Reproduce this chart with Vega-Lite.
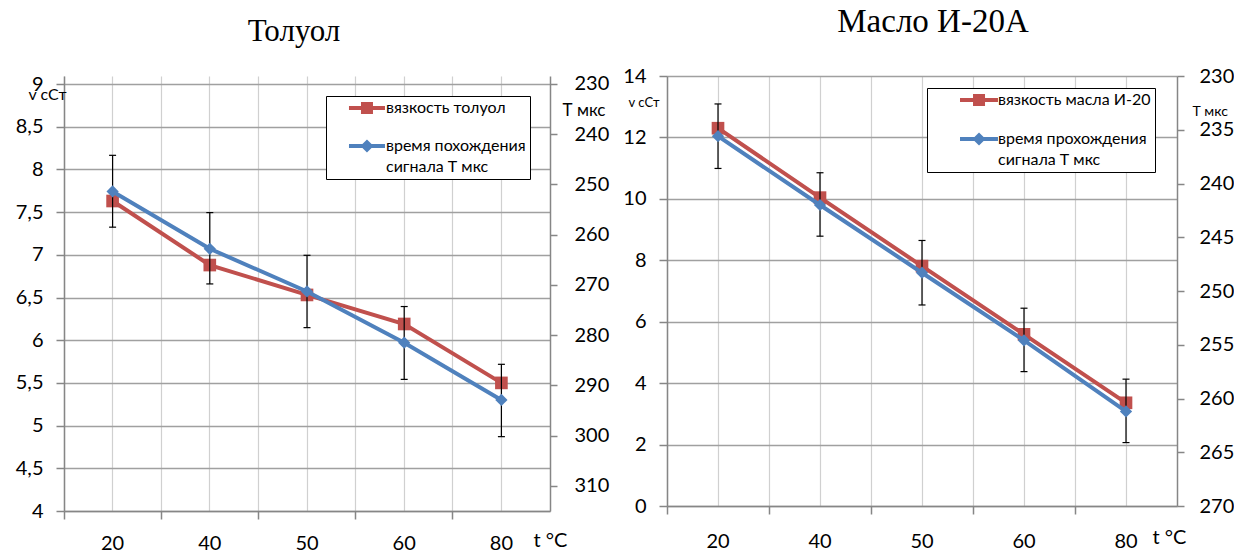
{
  "$schema": "https://vega.github.io/schema/vega-lite/v6.json",
  "padding": {"left": 15, "top": 6, "right": 0, "bottom": 0},
  "background": "white",
  "config": {
    "view": {"stroke": null},
    "font": "Lato",
    "axis": {"labelFont": "Lato", "titleFont": "Lato", "labelColor": "black", "titleColor": "black", "domainColor": "#868686", "tickColor": "#868686", "domainWidth": 1.5, "tickWidth": 1.5, "labelFontSize": 20, "titleFontWeight": "normal"},
    "title": {"font": "Liberation Serif", "fontSize": 31, "fontWeight": "normal", "color": "black", "baseline": "alphabetic", "frame": "group", "anchor": "middle"},
    "legend": {"title": null, "orient": "none", "strokeColor": "black", "fillColor": "white", "padding": 4, "labelFont": "Lato", "labelFontSize": 16, "labelColor": "black", "labelLimit": 300, "symbolSize": 144, "symbolStrokeWidth": 0, "symbolOpacity": 1}
  },
  "datasets": {
    "toluene": [
      {"t": "20", "visc": 7.63, "time": 251.4, "lo": 244.2, "hi": 258.5},
      {"t": "40", "visc": 6.88, "time": 262.8, "lo": 255.6, "hi": 269.8},
      {"t": "50", "visc": 6.53, "time": 271.3, "lo": 264.1, "hi": 278.5},
      {"t": "60", "visc": 6.19, "time": 281.5, "lo": 274.3, "hi": 288.8},
      {"t": "80", "visc": 5.5, "time": 292.9, "lo": 285.8, "hi": 300.2}
    ],
    "oil": [
      {"t": "20", "visc": 12.3, "time": 235.6, "lo": 232.6, "hi": 238.6},
      {"t": "40", "visc": 10.04, "time": 242.0, "lo": 239.0, "hi": 244.9},
      {"t": "50", "visc": 7.81, "time": 248.3, "lo": 245.3, "hi": 251.3},
      {"t": "60", "visc": 5.59, "time": 254.6, "lo": 251.6, "hi": 257.5},
      {"t": "80", "visc": 3.36, "time": 261.2, "lo": 258.2, "hi": 264.1}
    ]
  },
  "spacing": 13,
  "resolve": {"scale": {"color": "independent"}, "legend": {"color": "independent"}},
  "hconcat": [
    {
      "width": 486,
      "height": 435,
      "title": {"text": "Толуол", "offset": 26, "dx": -13},
      "data": {"name": "toluene"},
      "resolve": {"scale": {"y": "independent"}, "axis": {"x": "independent", "y": "independent"}},
      "layer": [
        {
          "layer": [
            {
              "mark": {"type": "line", "color": "#C0504D", "strokeWidth": 4},
              "encoding": {
                "x": {"field": "t", "type": "ordinal", "bandPosition": 0.5,
                  "scale": {"type": "band", "paddingInner": 0, "paddingOuter": 0, "domain": ["20", "40", "50", "60", "80"]},
                  "axis": {"orient": "bottom", "bandPosition": 0.5, "title": null, "ticks": false, "tickSize": 0, "domain": false, "grid": true, "gridColor": "#d0d0d0", "gridWidth": 1.2, "labelPadding": 22, "labelAngle": 0, "labelBaseline": "top"}},
                "y": {"field": "visc", "type": "quantitative",
                  "scale": {"domain": [4, 9.0937], "nice": false, "zero": false},
                  "axis": {"orient": "left", "values": [4, 4.5, 5, 5.5, 6, 6.5, 7, 7.5, 8, 8.5, 9], "grid": true, "gridColor": "#a0a0a0", "gridWidth": 1.5, "tickSize": 8, "labelPadding": 13, "labelExpr": "replace(format(datum.value, '~g'), '.', ',')", "title": "v сСт", "titleAngle": 0, "titleX": 2, "titleY": 23, "titleAlign": "right", "titleBaseline": "alphabetic", "titleFontSize": 16}}
              }
            },
            {
              "mark": {"type": "point", "shape": "square", "filled": true, "size": 160, "opacity": 1},
              "encoding": {
                "x": {"field": "t", "type": "ordinal", "bandPosition": 0.5},
                "y": {"field": "visc", "type": "quantitative"},
                "color": {"datum": "вязкость толуол", "type": "nominal",
                  "scale": {"domain": ["вязкость толуол", "время похождения сигнала Т мкс"], "range": ["#C0504D", "#4F81BD"]},
                  "legend": {"legendX": 262, "legendY": 20, "labelOffset": 40, "rowPadding": 22,
                    "symbolType": {"expr": "datum.value === 'вязкость толуол' ? 'M1.83,-0.33H7.83V0.33H1.83Z M3.83,-1H5.83V1H3.83Z' : 'M1.83,-0.33H7.83V0.33H1.83Z M4.83,-1.1L5.93,0L4.83,1.1L3.73,0Z'"},
                    "labelExpr": "datum.value === 'время похождения сигнала Т мкс' ? ['время похождения', 'сигнала Т мкс'] : datum.label",
                    "encode": {"labels": {"update": {"lineHeight": {"value": 21}}}}}}
              }
            }
          ]
        },
        {
          "layer": [
            {
              "mark": {"type": "rule", "color": "black", "strokeWidth": 1.2},
              "encoding": {
                "x": {"field": "t", "type": "ordinal", "bandPosition": 0.5,
                  "axis": {"orient": "bottom", "bandPosition": 0, "labels": false, "ticks": true, "tickSize": 8, "domain": true, "grid": true, "gridColor": "#d0d0d0", "gridWidth": 1.2, "title": "t °C", "titleX": 469, "titleY": 35, "titleAlign": "left", "titleBaseline": "alphabetic", "titleFontSize": 20}},
                "y": {"field": "lo", "type": "quantitative",
                  "scale": {"domain": [228.41, 315], "nice": false, "zero": false, "reverse": true},
                  "axis": {"orient": "right", "values": [230, 240, 250, 260, 270, 280, 290, 300, 310], "grid": false, "tickSize": 7, "labelPadding": 17, "title": "Т мкс", "titleAngle": 0, "titleX": 12, "titleY": 39, "titleAlign": "left", "titleBaseline": "alphabetic", "titleFontSize": 17}},
                "y2": {"field": "hi"}
              }
            },
            {
              "mark": {"type": "tick", "color": "black", "thickness": 1.2, "size": 7, "opacity": 1},
              "encoding": {
                "x": {"field": "t", "type": "ordinal", "bandPosition": 0.5},
                "y": {"field": "lo", "type": "quantitative"}
              }
            },
            {
              "mark": {"type": "tick", "color": "black", "thickness": 1.2, "size": 7, "opacity": 1},
              "encoding": {
                "x": {"field": "t", "type": "ordinal", "bandPosition": 0.5},
                "y": {"field": "hi", "type": "quantitative"}
              }
            },
            {
              "mark": {"type": "line", "color": "#4F81BD", "strokeWidth": 4},
              "encoding": {
                "x": {"field": "t", "type": "ordinal", "bandPosition": 0.5},
                "y": {"field": "time", "type": "quantitative"}
              }
            },
            {
              "mark": {"type": "point", "shape": "diamond", "filled": true, "size": 150, "opacity": 1},
              "encoding": {
                "x": {"field": "t", "type": "ordinal", "bandPosition": 0.5},
                "y": {"field": "time", "type": "quantitative"},
                "color": {"datum": "время похождения сигнала Т мкс", "type": "nominal"}
              }
            }
          ]
        }
      ]
    },
    {
      "width": 510,
      "height": 430,
      "title": {"text": "Масло И-20А", "offset": 27, "dx": 11, "fontSize": 33},
      "data": {"name": "oil"},
      "resolve": {"scale": {"y": "independent"}, "axis": {"x": "independent", "y": "independent"}},
      "layer": [
        {
          "layer": [
            {
              "mark": {"type": "line", "color": "#C0504D", "strokeWidth": 4},
              "encoding": {
                "x": {"field": "t", "type": "ordinal", "bandPosition": 0.5,
                  "scale": {"type": "band", "paddingInner": 0, "paddingOuter": 0, "domain": ["20", "40", "50", "60", "80"]},
                  "axis": {"orient": "bottom", "bandPosition": 0.5, "title": null, "ticks": false, "tickSize": 0, "domain": false, "grid": true, "gridColor": "#d0d0d0", "gridWidth": 1.2, "labelPadding": 25, "labelAngle": 0, "labelBaseline": "top"}},
                "y": {"field": "visc", "type": "quantitative",
                  "scale": {"domain": [0, 14], "nice": false},
                  "axis": {"orient": "left", "values": [0, 2, 4, 6, 8, 10, 12, 14], "grid": true, "gridColor": "#a0a0a0", "gridWidth": 1.5, "tickSize": 8, "labelPadding": 13, "title": "v сСт", "titleAngle": 0, "titleX": -8, "titleY": 30, "titleAlign": "right", "titleBaseline": "alphabetic", "titleFontSize": 13}}
              }
            },
            {
              "mark": {"type": "point", "shape": "square", "filled": true, "size": 160, "opacity": 1},
              "encoding": {
                "x": {"field": "t", "type": "ordinal", "bandPosition": 0.5},
                "y": {"field": "visc", "type": "quantitative"},
                "color": {"datum": "вязкость масла И-20", "type": "nominal",
                  "scale": {"domain": ["вязкость масла И-20", "время прохождения сигнала  Т мкс"], "range": ["#C0504D", "#4F81BD"]},
                  "legend": {"legendX": 260, "legendY": 12, "labelOffset": 51, "rowPadding": 23,
                    "symbolType": {"expr": "datum.value === 'вязкость масла И-20' ? 'M3.5,-0.33H9.83V0.33H3.5Z M5.67,-1H7.67V1H5.67Z' : 'M3.5,-0.33H9.83V0.33H3.5Z M6.67,-1.1L7.77,0L6.67,1.1L5.57,0Z'"},
                    "labelExpr": "datum.value === 'время прохождения сигнала  Т мкс' ? ['время прохождения', 'сигнала  Т мкс'] : datum.label",
                    "encode": {"labels": {"update": {"lineHeight": {"value": 21}}}}}}
              }
            }
          ]
        },
        {
          "layer": [
            {
              "mark": {"type": "rule", "color": "black", "strokeWidth": 1.2},
              "encoding": {
                "x": {"field": "t", "type": "ordinal", "bandPosition": 0.5,
                  "axis": {"orient": "bottom", "bandPosition": 0, "labels": false, "ticks": true, "tickSize": 8, "domain": true, "grid": true, "gridColor": "#d0d0d0", "gridWidth": 1.2, "title": "t °C", "titleX": 485, "titleY": 37, "titleAlign": "left", "titleBaseline": "alphabetic", "titleFontSize": 20}},
                "y": {"field": "lo", "type": "quantitative",
                  "scale": {"domain": [230, 270], "nice": false, "zero": false, "reverse": true},
                  "axis": {"orient": "right", "values": [230, 235, 240, 245, 250, 255, 260, 265, 270], "grid": false, "tickSize": 7, "labelPadding": 15, "title": "Т мкс", "titleAngle": 0, "titleX": 15, "titleY": 39, "titleAlign": "left", "titleBaseline": "alphabetic", "titleFontSize": 14}},
                "y2": {"field": "hi"}
              }
            },
            {
              "mark": {"type": "tick", "color": "black", "thickness": 1.2, "size": 7, "opacity": 1},
              "encoding": {
                "x": {"field": "t", "type": "ordinal", "bandPosition": 0.5},
                "y": {"field": "lo", "type": "quantitative"}
              }
            },
            {
              "mark": {"type": "tick", "color": "black", "thickness": 1.2, "size": 7, "opacity": 1},
              "encoding": {
                "x": {"field": "t", "type": "ordinal", "bandPosition": 0.5},
                "y": {"field": "hi", "type": "quantitative"}
              }
            },
            {
              "mark": {"type": "line", "color": "#4F81BD", "strokeWidth": 4},
              "encoding": {
                "x": {"field": "t", "type": "ordinal", "bandPosition": 0.5},
                "y": {"field": "time", "type": "quantitative"}
              }
            },
            {
              "mark": {"type": "point", "shape": "diamond", "filled": true, "size": 150, "opacity": 1},
              "encoding": {
                "x": {"field": "t", "type": "ordinal", "bandPosition": 0.5},
                "y": {"field": "time", "type": "quantitative"},
                "color": {"datum": "время прохождения сигнала  Т мкс", "type": "nominal"}
              }
            }
          ]
        }
      ]
    }
  ]
}
